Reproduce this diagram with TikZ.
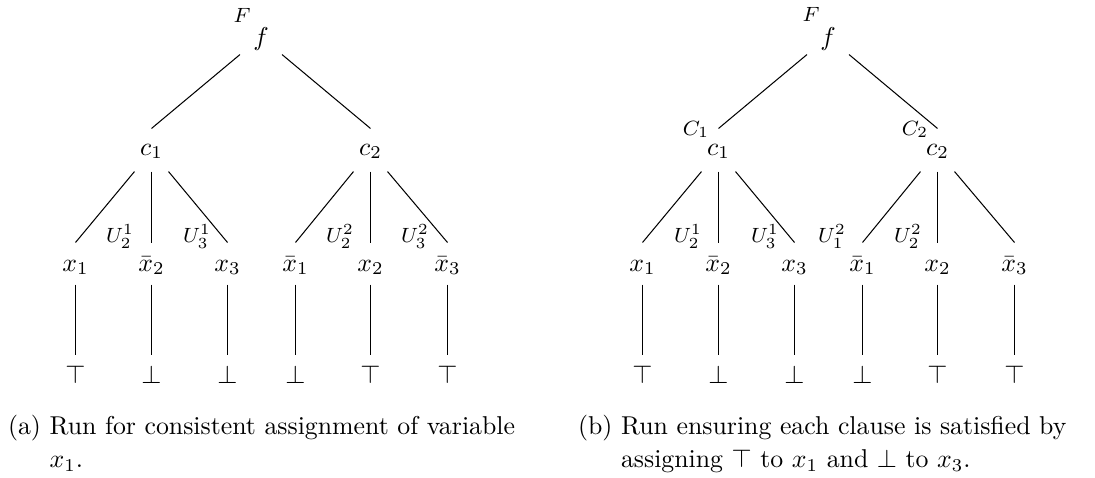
\documentclass[tikz,border=0pt]{standalone}
\begin{document}
\begin{tikzpicture}[x=0.3876pt, y=-0.3876pt,
  tn/.style={inner sep=0pt},
  lf/.style={tn, minimum width=15.9pt, text height=9.9pt, text depth=3.3pt},
  lc/.style={tn, minimum width=12.8pt, text width=9pt, align=center, text height=10.1pt, text depth=6.2pt},
  lx/.style={tn, text height=10.85pt, text depth=5.04pt},
  lt/.style={tn, text height=10.85pt, text depth=5pt},
  lbl/.style={font=\footnotesize, inner sep=0pt, anchor=base},
  captxt/.style={anchor=north west, align=left, inner sep=0pt, font=\fontsize{10}{12.9}\selectfont},
  con/.style={draw, line width=0.4pt}]
\useasboundingbox (0,0) rectangle (1095,477);

% ---------- left tree (a) ----------
\node[lf] (fa) at (261,37) {$f$};
\node[lc] (c1a) at (151.5,150) {$c_1$};
\node[lc] (c2a) at (370.5,150) {$c_2$};
\node[lx] (l1a) at (75.5,263.5) {$x_1$};
\node[lx] (l2a) at (151.5,263.5) {$\bar{x}_2$};
\node[lx] (l3a) at (227.5,263.5) {$x_3$};
\node[lx] (l4a) at (295.5,263.5) {$\bar{x}_1$};
\node[lx] (l5a) at (370.5,263.5) {$x_2$};
\node[lx] (l6a) at (447.5,263.5) {$\bar{x}_3$};
\node[lt] (t1a) at (75.5,376.4) {$\top$};
\node[lt] (t2a) at (151.5,376.4) {$\bot$};
\node[lt] (t3a) at (227.5,376.4) {$\bot$};
\node[lt] (t4a) at (295.5,376.4) {$\bot$};
\node[lt] (t5a) at (370.5,376.4) {$\top$};
\node[lt] (t6a) at (447.5,376.4) {$\top$};

\node[lbl] (Fa) at (242,22) {$F$};
\node[lbl] (ua1) at (120,242) {$U_2^1$};
\node[lbl] (ua2) at (197,242) {$U_3^1$};
\node[lbl] (ua3) at (340,242) {$U_2^2$};
\node[lbl] (ua4) at (415,242) {$U_3^2$};

\draw[con] (fa.south west) -- (c1a.north);
\draw[con] (fa.south east) -- (c2a.north);
\draw[con] (c1a.south west) -- (l1a.north);
\draw[con] (c1a.south) -- (l2a.north);
\draw[con] (c1a.south east) -- (l3a.north);
\draw[con] (c2a.south west) -- (l4a.north);
\draw[con] (c2a.south) -- (l5a.north);
\draw[con] (c2a.south east) -- (l6a.north);
\foreach \i in {1,...,6}{\draw[con] (l\i a.south) -- (t\i a.north);}

% ---------- right tree (b) ----------
\node[lf] (fb) at (828,37) {$f$};
\node[lc] (c1b) at (718.5,150) {$c_1$};
\node[lc] (c2b) at (937.5,150) {$c_2$};
\node[lx] (l1b) at (642.5,263.5) {$x_1$};
\node[lx] (l2b) at (718.5,263.5) {$\bar{x}_2$};
\node[lx] (l3b) at (794.5,263.5) {$x_3$};
\node[lx] (l4b) at (862.5,263.5) {$\bar{x}_1$};
\node[lx] (l5b) at (937.5,263.5) {$x_2$};
\node[lx] (l6b) at (1014.5,263.5) {$\bar{x}_3$};
\node[lt] (t1b) at (642.5,376.4) {$\top$};
\node[lt] (t2b) at (718.5,376.4) {$\bot$};
\node[lt] (t3b) at (794.5,376.4) {$\bot$};
\node[lt] (t4b) at (862.5,376.4) {$\bot$};
\node[lt] (t5b) at (937.5,376.4) {$\top$};
\node[lt] (t6b) at (1014.5,376.4) {$\top$};

\node[lbl] (Fb) at (811,21) {$F$};
\node[lbl] (Cb1) at (696,135) {$C_1$};
\node[lbl] (Cb2) at (915,135) {$C_2$};
\node[lbl] (ub1) at (688,242) {$U_2^1$};
\node[lbl] (ub2) at (765,242) {$U_3^1$};
\node[lbl] (ub3) at (832,242) {$U_1^2$};
\node[lbl] (ub4) at (908,242) {$U_2^2$};

\draw[con] (fb.south west) -- (c1b.north);
\draw[con] (fb.south east) -- (c2b.north);
\draw[con] (c1b.south west) -- (l1b.north);
\draw[con] (c1b.south) -- (l2b.north);
\draw[con] (c1b.south east) -- (l3b.north);
\draw[con] (c2b.south west) -- (l4b.north);
\draw[con] (c2b.south) -- (l5b.north);
\draw[con] (c2b.south east) -- (l6b.north);
\foreach \i in {1,...,6}{\draw[con] (l\i b.south) -- (t\i b.north);}

% ---------- captions ----------
\node[captxt] (capa) at (7.5,414.6) {(a) Run for consistent assignment of variable\\\hphantom{(a)~}$x_1$.};
\node[captxt] (capb) at (577.5,414.6) {(b) Run ensuring each clause is satisfied by\\\hphantom{(b)~}assigning $\top$ to $x_1$ and $\bot$ to $x_3$.};
\end{tikzpicture}
\end{document}
